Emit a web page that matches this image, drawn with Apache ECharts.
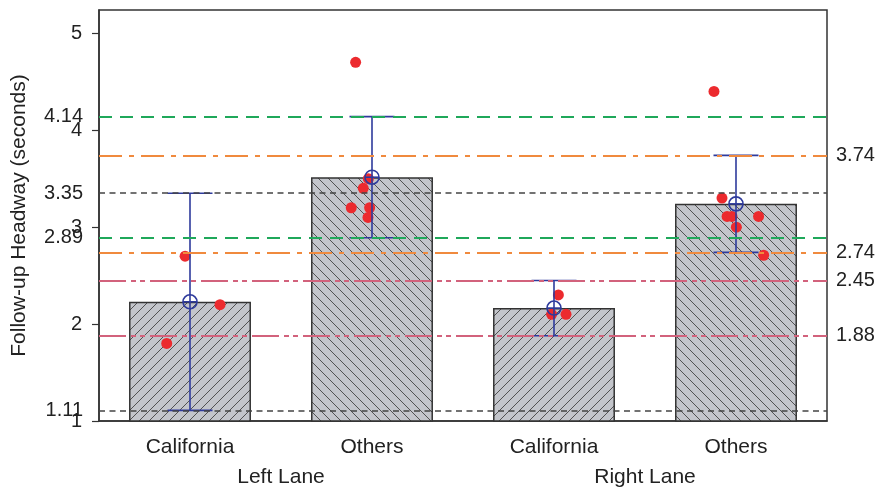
<!DOCTYPE html>
<html>
<head>
<meta charset="utf-8">
<script src="https://cdn.jsdelivr.net/npm/echarts@6/dist/echarts.min.js"></script>
<style>
  html, body { margin: 0; padding: 0; background: #fff; }
  #chart { width: 880px; height: 491px; }
</style>
</head>
<body>
<div id="chart"></div>
<script>
// ---- data ----
const categories = ['California', 'Others', 'California', 'Others'];
const laneNames = ['Left Lane', 'Right Lane'];
const means = [2.23, 3.515, 2.165, 3.24];
const lowerBounds = [1.11, 2.89, 1.88, 2.74];
const upperBounds = [3.35, 4.14, 2.45, 3.74];
const yTicks = [1, 2, 3, 4, 5];
const leftBoundTicks = [4.14, 3.35, 2.89, 1.11];
const rightBoundTicks = [3.74, 2.74, 2.45, 1.88];

// individual observations; jitter = horizontal offset in category widths
const obsLeftCal = [2.70, 2.20, 1.80];
const jitLeftCal = [-0.027, 0.165, -0.128];
const obsLeftOth = [4.70, 3.50, 3.40, 3.20, 3.20, 3.10];
const jitLeftOth = [-0.090, -0.020, -0.048, -0.114, -0.013, -0.022];
const obsRightCal = [2.30, 2.10, 2.10];
const jitRightCal = [0.024, -0.013, 0.066];
const obsRightOth = [4.40, 3.30, 3.11, 3.11, 3.11, 3.00, 2.71];
const jitRightOth = [-0.121, -0.077, -0.049, -0.022, 0.124, 0.002, 0.152];

const observations = [obsLeftCal, obsLeftOth, obsRightCal, obsRightOth];
const jitters = [jitLeftCal, jitLeftOth, jitRightCal, jitRightOth];

// ---- styles ----
const FONT = 'Liberation Sans, Arial, sans-serif';
const TXT = '#222';
const AXIS = '#333';
const ERR = '#2e3a9c';
const DOT = '#ec2a2e';
const FS = 20;

// reference line style for each group's interval bounds
const boundStyles = [
  { color: '#444444', type: [6, 4.5], width: 1.6 },
  { color: '#1fa85a', type: [13, 8], width: 1.8 },
  { color: '#d2627c', type: [27, 5, 5, 4, 5, 5], width: 1.8 },
  { color: '#f08a3e', type: [23, 7, 5, 7], width: 1.8 }
];

// hatched fill tiles
function hatchTile(rising) {
  const s = 10;
  const cv = document.createElement('canvas');
  cv.width = s; cv.height = s;
  const ctx = cv.getContext('2d');
  ctx.fillStyle = '#c3c5cb';
  ctx.fillRect(0, 0, s, s);
  ctx.strokeStyle = '#444';
  ctx.lineWidth = 0.9;
  ctx.beginPath();
  if (rising) {
    ctx.moveTo(-1, s + 1); ctx.lineTo(s + 1, -1);
    ctx.moveTo(-1, 1); ctx.lineTo(1, -1);
    ctx.moveTo(s - 1, s + 1); ctx.lineTo(s + 1, s - 1);
  } else {
    ctx.moveTo(-1, -1); ctx.lineTo(s + 1, s + 1);
    ctx.moveTo(s - 1, -1); ctx.lineTo(s + 1, 1);
    ctx.moveTo(-1, s - 1); ctx.lineTo(1, s + 1);
  }
  ctx.stroke();
  return cv;
}
const risingHatch = { image: hatchTile(true), repeat: 'repeat' };
const fallingHatch = { image: hatchTile(false), repeat: 'repeat' };

const barData = means.map((v, i) => ({
  value: v,
  itemStyle: { color: i % 2 === 0 ? risingHatch : fallingHatch }
}));

const boundLines = [];
means.forEach((_, i) => {
  [upperBounds[i], lowerBounds[i]].forEach(v => {
    boundLines.push({ yAxis: v, lineStyle: boundStyles[i] });
  });
});

const dotData = [];
observations.forEach((arr, g) => {
  arr.forEach((v, k) => dotData.push([g + jitters[g][k], v]));
});

const errData = means.map((m, i) => [i, m, lowerBounds[i], upperBounds[i]]);

const yMin = 1, yMax = 5.24;

const chart = echarts.init(document.getElementById('chart'));
chart.setOption({
  animation: false,
  backgroundColor: '#fff',
  textStyle: { fontFamily: FONT },
  grid: {
    left: 99, right: 53, top: 10, bottom: 70,
    show: true, borderColor: AXIS, borderWidth: 1.5, backgroundColor: 'transparent'
  },
  xAxis: [
    {
      type: 'category', data: categories, position: 'bottom',
      axisLine: { onZero: false, lineStyle: { color: AXIS, width: 1.5 } },
      axisTick: { alignWithLabel: true, length: 6, lineStyle: { color: AXIS, width: 1.2 } },
      axisLabel: { color: TXT, fontSize: 21, fontFamily: FONT, margin: 16 },
      splitLine: { show: false }
    },
    {
      type: 'value', min: -0.5, max: 3.5, show: false
    },
    {
      type: 'category', data: laneNames, position: 'bottom',
      axisLine: { show: false, onZero: false }, axisTick: { show: false },
      axisLabel: { color: TXT, fontSize: 21, fontFamily: FONT, margin: 46 },
      splitLine: { show: false }
    }
  ],
  yAxis: [
    {
      type: 'value', min: yMin, max: yMax, position: 'left',
      name: 'Follow-up Headway (seconds)', nameLocation: 'middle', nameGap: 69,
      nameTextStyle: { color: TXT, fontSize: 21, fontFamily: FONT },
      axisLine: { show: true, onZero: false, lineStyle: { color: AXIS, width: 1.5 } },
      axisTick: { show: true, length: 7, customValues: yTicks, lineStyle: { color: AXIS, width: 1.2 } },
      axisLabel: { color: TXT, fontSize: FS, fontFamily: FONT, margin: 17, customValues: yTicks },
      splitLine: { show: false }
    },
    {
      type: 'value', min: yMin, max: yMax, position: 'left',
      axisLine: { show: false, onZero: false }, axisTick: { show: false },
      axisLabel: { color: TXT, fontSize: FS, fontFamily: FONT, margin: 16, customValues: leftBoundTicks },
      splitLine: { show: false }
    },
    {
      type: 'value', min: yMin, max: yMax, position: 'right',
      axisLine: { show: false, onZero: false }, axisTick: { show: false },
      axisLabel: { color: TXT, fontSize: FS, fontFamily: FONT, margin: 9, customValues: rightBoundTicks },
      splitLine: { show: false }
    }
  ],
  series: [
    {
      // interval bound reference lines
      type: 'line', xAxisIndex: 1, yAxisIndex: 0, data: [], z: 1,
      markLine: {
        silent: true, symbol: ['none', 'none'], label: { show: false },
        data: boundLines
      }
    },
    {
      type: 'bar', xAxisIndex: 0, yAxisIndex: 0, data: barData, barWidth: '67%', z: 2,
      itemStyle: { borderColor: '#333', borderWidth: 1.5 }
    },
    {
      type: 'scatter', xAxisIndex: 1, yAxisIndex: 0, data: dotData, z: 3,
      symbol: 'circle', symbolSize: 11,
      itemStyle: { color: DOT, opacity: 1 }
    },
    {
      // mean marker with interval whiskers
      type: 'custom', xAxisIndex: 1, yAxisIndex: 0, data: errData, z: 4,
      renderItem(params, api) {
        const x = api.value(0);
        const c = api.coord([x, api.value(1)]);
        const lo = api.coord([x, api.value(2)]);
        const hi = api.coord([x, api.value(3)]);
        const cap = 22.5, r = 7;
        const st = { stroke: ERR, lineWidth: 1.6 };
        return {
          type: 'group',
          children: [
            { type: 'line', shape: { x1: c[0], y1: hi[1], x2: c[0], y2: lo[1] }, style: st },
            { type: 'line', shape: { x1: c[0] - cap, y1: hi[1], x2: c[0] + cap, y2: hi[1] }, style: st },
            { type: 'line', shape: { x1: c[0] - cap, y1: lo[1], x2: c[0] + cap, y2: lo[1] }, style: st },
            { type: 'circle', shape: { cx: c[0], cy: c[1], r: r }, style: { stroke: ERR, lineWidth: 1.6, fill: 'transparent' } },
            { type: 'line', shape: { x1: c[0] - r, y1: c[1], x2: c[0] + r, y2: c[1] }, style: st }
          ]
        };
      }
    }
  ]
});
</script>
</body>
</html>
